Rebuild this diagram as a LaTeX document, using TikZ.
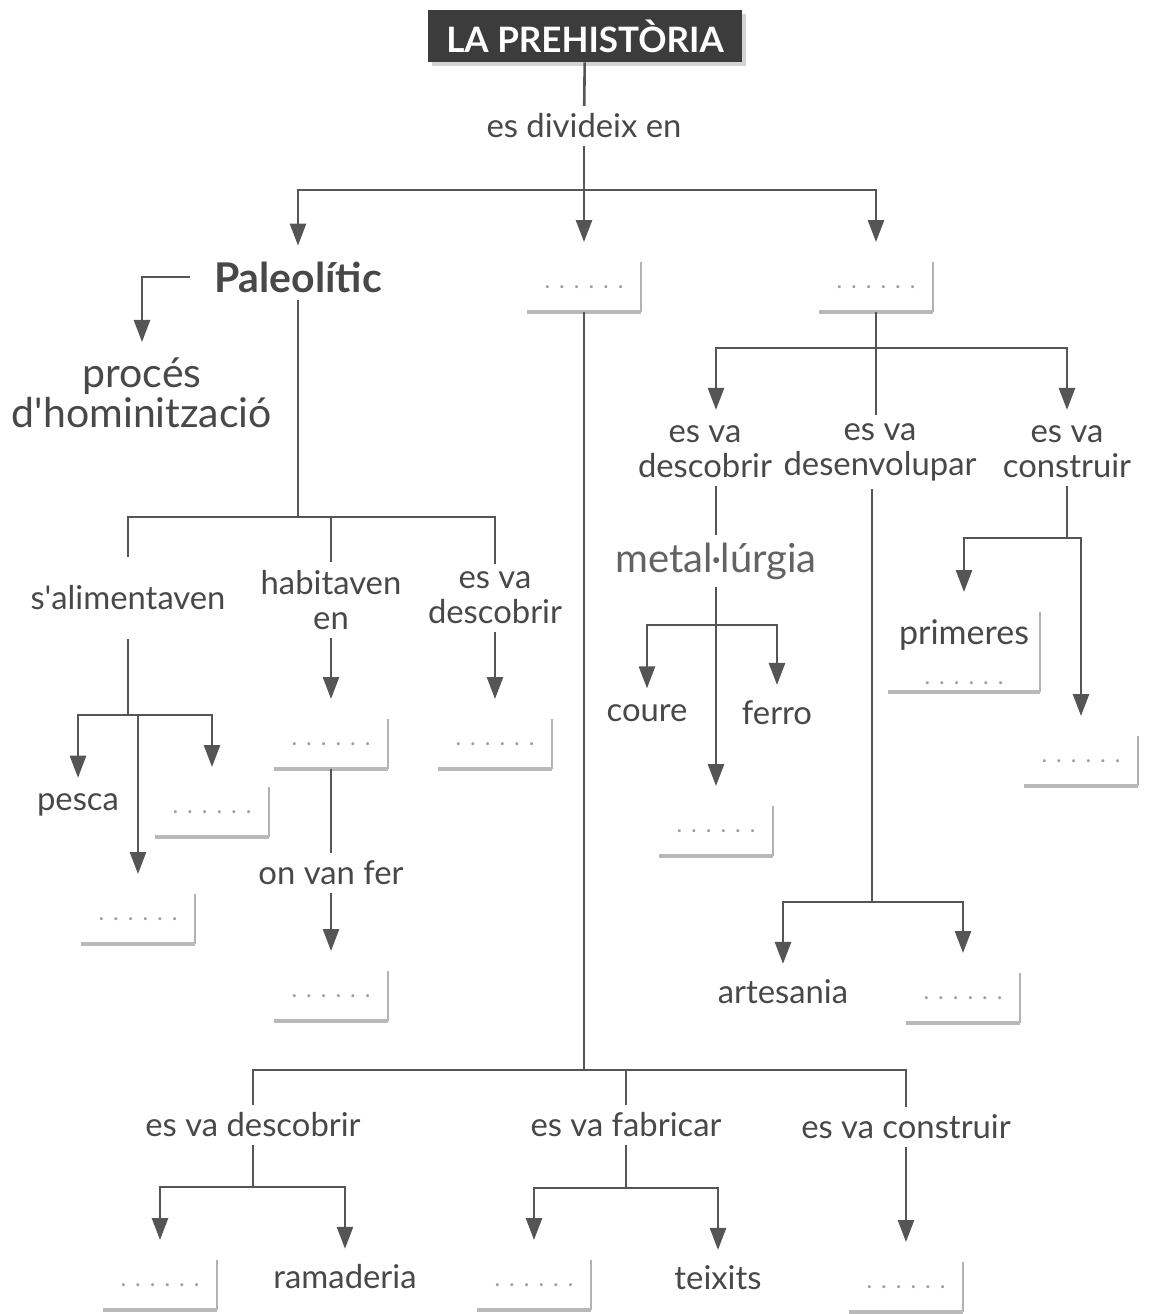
\documentclass[tikz,border=0pt]{standalone}
\usepackage{fontspec}
\setmainfont{Lato}
\usepackage{tikz}
\usepackage{xcolor}
\usetikzlibrary{arrows.meta,positioning,calc,shadows}
\definecolor{ink}{HTML}{484848}
\definecolor{wire}{HTML}{555555}
\definecolor{ttlgray}{HTML}{3C3C3C}
\newcommand{\blanks}{{\color{gray!75}.\hspace{4.5pt}.\hspace{4.5pt}.\hspace{4.5pt}.\hspace{4.5pt}.\hspace{4.5pt}.}}

\begin{document}
\begin{tikzpicture}[x=0.5pt,y=-0.5pt,
lab/.style={font=\fontsize{16.4}{17.5}\selectfont,text=ink,align=center,inner sep=1pt,outer sep=3pt},
big/.style={font=\fontsize{20.5}{20}\selectfont,text=ink,align=center,inner sep=1pt,outer sep=3pt},
blank/.style={minimum width=57pt,minimum height=25pt,inner sep=0pt,outer sep=0pt,align=center,
  font=\fontsize{12}{12}\selectfont,
  append after command={(\tikzlastnode.north east) edge[draw=gray!60,line width=1pt] (\tikzlastnode.south east)
  (\tikzlastnode.south east) edge[draw=gray!55,line width=2.2pt] (\tikzlastnode.south west)}},
con/.style={draw=wire,line width=1.3pt},
arr/.style={con,-{Triangle[length=11pt,width=8pt]},shorten >=4pt},
arrb/.style={arr,shorten >=10pt}]

\useasboundingbox (0,0) rectangle (1150,1314);

\node[fill=ttlgray,text=white,minimum width=157pt,minimum height=26pt,font=\fontsize{17.5}{17.5}\selectfont\bfseries,
  drop shadow={shadow xshift=2pt,shadow yshift=-2pt,opacity=0.35}] (ttl) at (585,36) {LA PREHISTÒRIA};
\node[lab] (div) at (584,126) {es divideix en};
\coordinate (b1) at (584,190);
\node[big,font=\fontsize{20.5}{20}\selectfont\bfseries] (pal) at (298,277) {Paleolític};
\node[blank] (neo) at (584,287) {\blanks};
\node[blank] (met) at (876,287) {\blanks};

\node[big] (hom) at (142,393) {procés\\d\textquotesingle hominització};
\coordinate (b2) at (298,517);
\node[lab,minimum height=35pt] (ali) at (128,598) {s\textquotesingle alimentaven};
\node[lab] (hab) at (331,600) {habitaven\\en};
\node[lab] (dsc1) at (495,598) {es va\\descobrir};
\coordinate (b3) at (128,715);
\node[lab] (pes) at (78,805) {pesca};
\node[blank] (ab1) at (212,812) {\blanks};
\node[blank] (ab2) at (138,919) {\blanks};
\node[blank] (hb1) at (331,744) {\blanks};
\node[lab] (onv) at (331,873) {on van fer};
\node[blank] (hb2) at (331,996) {\blanks};
\node[blank] (db1) at (495,744) {\blanks};

\coordinate (b4) at (584,1070);
\node[lab] (dsc2) at (253,1125) {es va descobrir};
\node[lab] (fab) at (626,1125) {es va fabricar};
\node[lab] (cns2) at (906,1127) {es va construir};
\coordinate (b5) at (253,1187);
\coordinate (b6) at (626,1188);
\node[blank] (nb1) at (160,1285) {\blanks};
\node[lab] (ram) at (345,1277) {ramaderia};
\node[blank] (nb2) at (534,1285) {\blanks};
\node[lab] (tei) at (718,1278) {teixits};
\node[blank] (nb3) at (906,1287) {\blanks};

\coordinate (b7) at (875,348);
\node[lab] (dsc3) at (705,452) {es va\\descobrir};
\node[lab] (dev) at (880,452) {es va\\desenvolupar};
\node[lab] (cns3) at (1067,452) {es va\\construir};
\node[big,font=\fontsize{20}{20}\selectfont,text=ink!85] (mtl) at (716,561) {metal·lúrgia};
\coordinate (b8) at (716,625);
\node[lab] (cou) at (647,713) {coure};
\node[lab] (fer) at (777,713) {ferro};
\node[blank] (mb) at (716,831) {\blanks};
\coordinate (b9) at (872,902);
\node[lab] (art) at (783,992) {artesania};
\node[blank] (ab3) at (963,998) {\blanks};
\coordinate (b10) at (1067,538);
\node[blank,minimum width=76pt,minimum height=40pt,font=\fontsize{17}{20}\selectfont,text=ink] (pr) at (964,652) {primeres\\{\fontsize{12}{12}\selectfont\blanks}};
\node[blank] (cb) at (1081,761) {\blanks};

\draw[con] (ttl) -- (div);
\draw[arrb] (div) -- (neo);
\draw[arr] (b1) -| (pal);
\draw[arrb] (b1) -| (met);
\draw[arr,shorten <=8pt] (pal) -| (hom);

\draw[con] (pal) -- (b2);
\draw[con] (b2) -| (ali);
\draw[con] (b2) -| (hab);
\draw[con] (b2) -| (dsc1);
\draw[con] (ali) -- (b3);
\draw[arr] (b3) -| (pes);
\draw[arrb] (b3) -| (ab1);
\draw[arrb] (ab2 |- b3) -- (ab2);
\draw[arrb] (hab) -- (hb1);
\draw[con] (hb1) -- (onv);
\draw[arrb] (onv) -- (hb2);
\draw[arrb] (dsc1) -- (db1);

\draw[con] (neo) -- (b4);
\draw[con] (b4) -| (dsc2);
\draw[con] (b4) -| (fab);
\draw[con] (b4) -| (cns2);
\draw[con] (dsc2) -- (b5);
\draw[arrb] (b5) -| (nb1);
\draw[arr] (b5) -| (ram);
\draw[con] (fab) -- (b6);
\draw[arrb] (b6) -| (nb2);
\draw[arr] (b6) -| (tei);
\draw[arrb] (cns2) -- (nb3);

\draw[con] (met) -- (met |- dev.north);
\draw[arr] (b7) -| (mtl |- dsc3.north);
\draw[arr] (b7) -| (cns3);
\draw[con] (mtl |- dsc3.south) -- (mtl);
\draw[arrb] (mtl) -- (mb);
\draw[arr] (b8) -| (cou);
\draw[arr] (b8) -| (fer);
\draw[con] (dev.south -| b9) -- (b9);
\draw[arr] (b9) -| (art);
\draw[arrb] (b9) -| (ab3);
\draw[con] (cns3) -- (b10);
\draw[arrb] (b10) -| (pr);
\draw[arrb] (b10) -| (cb);
\end{tikzpicture}
\end{document}
